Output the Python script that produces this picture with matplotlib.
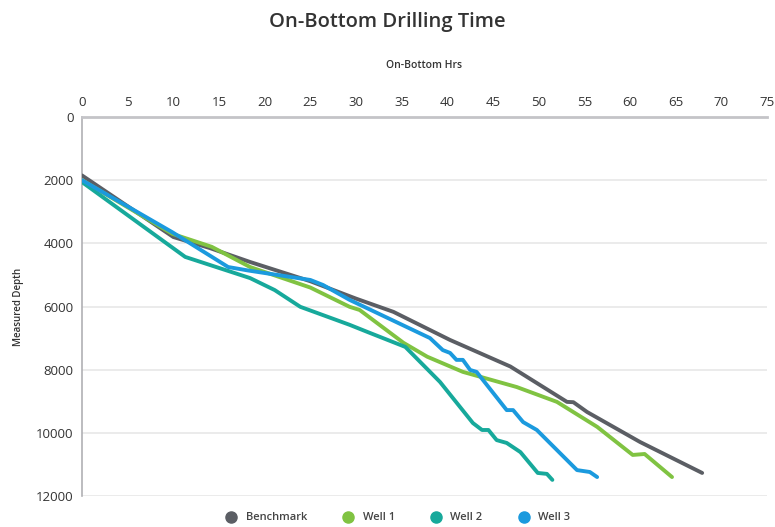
import matplotlib
matplotlib.use('Agg')
import matplotlib.pyplot as plt
from matplotlib.lines import Line2D

# on-bottom hours vs measured depth
bench_hrs = [0, 10, 14, 18.4, 25, 30, 34.1, 40.3, 46.9, 53.1, 53.8, 55.3, 61.1, 67.9]
bench_md = [1850, 3800, 4150, 4590, 5200, 5750, 6170, 7060, 7900, 9020, 9030, 9340, 10290, 11270]

well1_hrs = [0, 9.9, 14.2, 18.4, 25, 29.3, 30.4, 35.2, 37.8, 41.7, 47.6, 52.0, 56.4, 60.3, 61.6, 64.6]
well1_md = [2000, 3700, 4110, 4750, 5400, 6010, 6110, 7150, 7590, 8070, 8550, 9020, 9810, 10700, 10670, 11400]

well2_hrs = [0, 11.3, 18.4, 21.1, 23.9, 29.3, 31.2, 35.4, 39.2, 42.8, 43.8, 44.5, 45.4, 46.5, 48.0, 49.9, 50.9, 51.5]
well2_md = [2060, 4430, 5100, 5480, 6010, 6580, 6800, 7280, 8390, 9690, 9910, 9910, 10230, 10320, 10610, 11270, 11300, 11490]

well3_hrs = [0, 9.9, 16.0, 18.2, 25.0, 26.4, 29.3, 38.1, 39.5, 40.3, 41.0, 41.7, 42.5, 43.2,
             46.5, 47.2, 48.3, 49.8, 54.2, 55.6, 56.4]
well3_md = [2000, 3650, 4750, 4860, 5160, 5320, 5790, 7000, 7380, 7470, 7690, 7690, 8010, 8070,
            9280, 9280, 9660, 9910, 11180, 11240, 11400]

series = [('Benchmark', bench_hrs, bench_md, '#5b5e64'),
          ('Well 1', well1_hrs, well1_md, '#80c342'),
          ('Well 2', well2_hrs, well2_md, '#17a99b'),
          ('Well 3', well3_hrs, well3_md, '#1b9ade')]

plt.rcParams['font.family'] = ['Open Sans', 'DejaVu Sans']

fig = plt.figure(figsize=(7.75, 5.27), dpi=100)
ax = fig.add_axes([82/775, 1-496/527, 685/775, 379/527])

for name, hrs, md, col in series:
    ax.plot(hrs, md, color=col, linewidth=2.8, solid_capstyle='round',
            solid_joinstyle='round', label=name, zorder=3)

ax.set_xlim(0, 75)
ax.set_ylim(12000, 0)
ax.set_xticks(range(0, 76, 5))
ax.set_yticks(range(0, 12001, 2000))
ax.xaxis.tick_top()
ax.xaxis.set_label_position('top')
ax.tick_params(length=0, labelsize=9.5, colors='#333333', pad=6)
ax.grid(axis='y', color='#e8e8e8', linewidth=1.2, zorder=0)

for s in ['right', 'bottom']:
    ax.spines[s].set_visible(False)
ax.spines['top'].set_color('#c4c4c8')
ax.spines['top'].set_linewidth(2)
ax.spines['left'].set_color('#b0b0b4')
ax.spines['left'].set_linewidth(1.2)

ax.set_xlabel('On-Bottom Hrs', fontsize=7.5, fontweight='semibold',
              color='#333333', labelpad=20)
ax.set_ylabel('Measured Depth', fontsize=7, fontweight='semibold',
              color='#333333', labelpad=9)

fig.text(0.5, 1-22/527, 'On-Bottom Drilling Time', ha='center', va='center',
         fontsize=14.5, fontweight='semibold', color='#333333')

handles = [Line2D([], [], marker='o', linestyle='none', markersize=8,
                  markerfacecolor=col, markeredgecolor=col)
           for _, _, _, col in series]
leg = fig.legend(handles, [s[0] for s in series], loc='center',
                 bbox_to_anchor=(0.51, 1-518/527), ncol=4, frameon=False,
                 fontsize=8, handletextpad=0.3, columnspacing=2.7)
for t in leg.get_texts():
    t.set_fontweight('semibold')
    t.set_color('#444444')

fig.savefig('out.png', dpi=100)
